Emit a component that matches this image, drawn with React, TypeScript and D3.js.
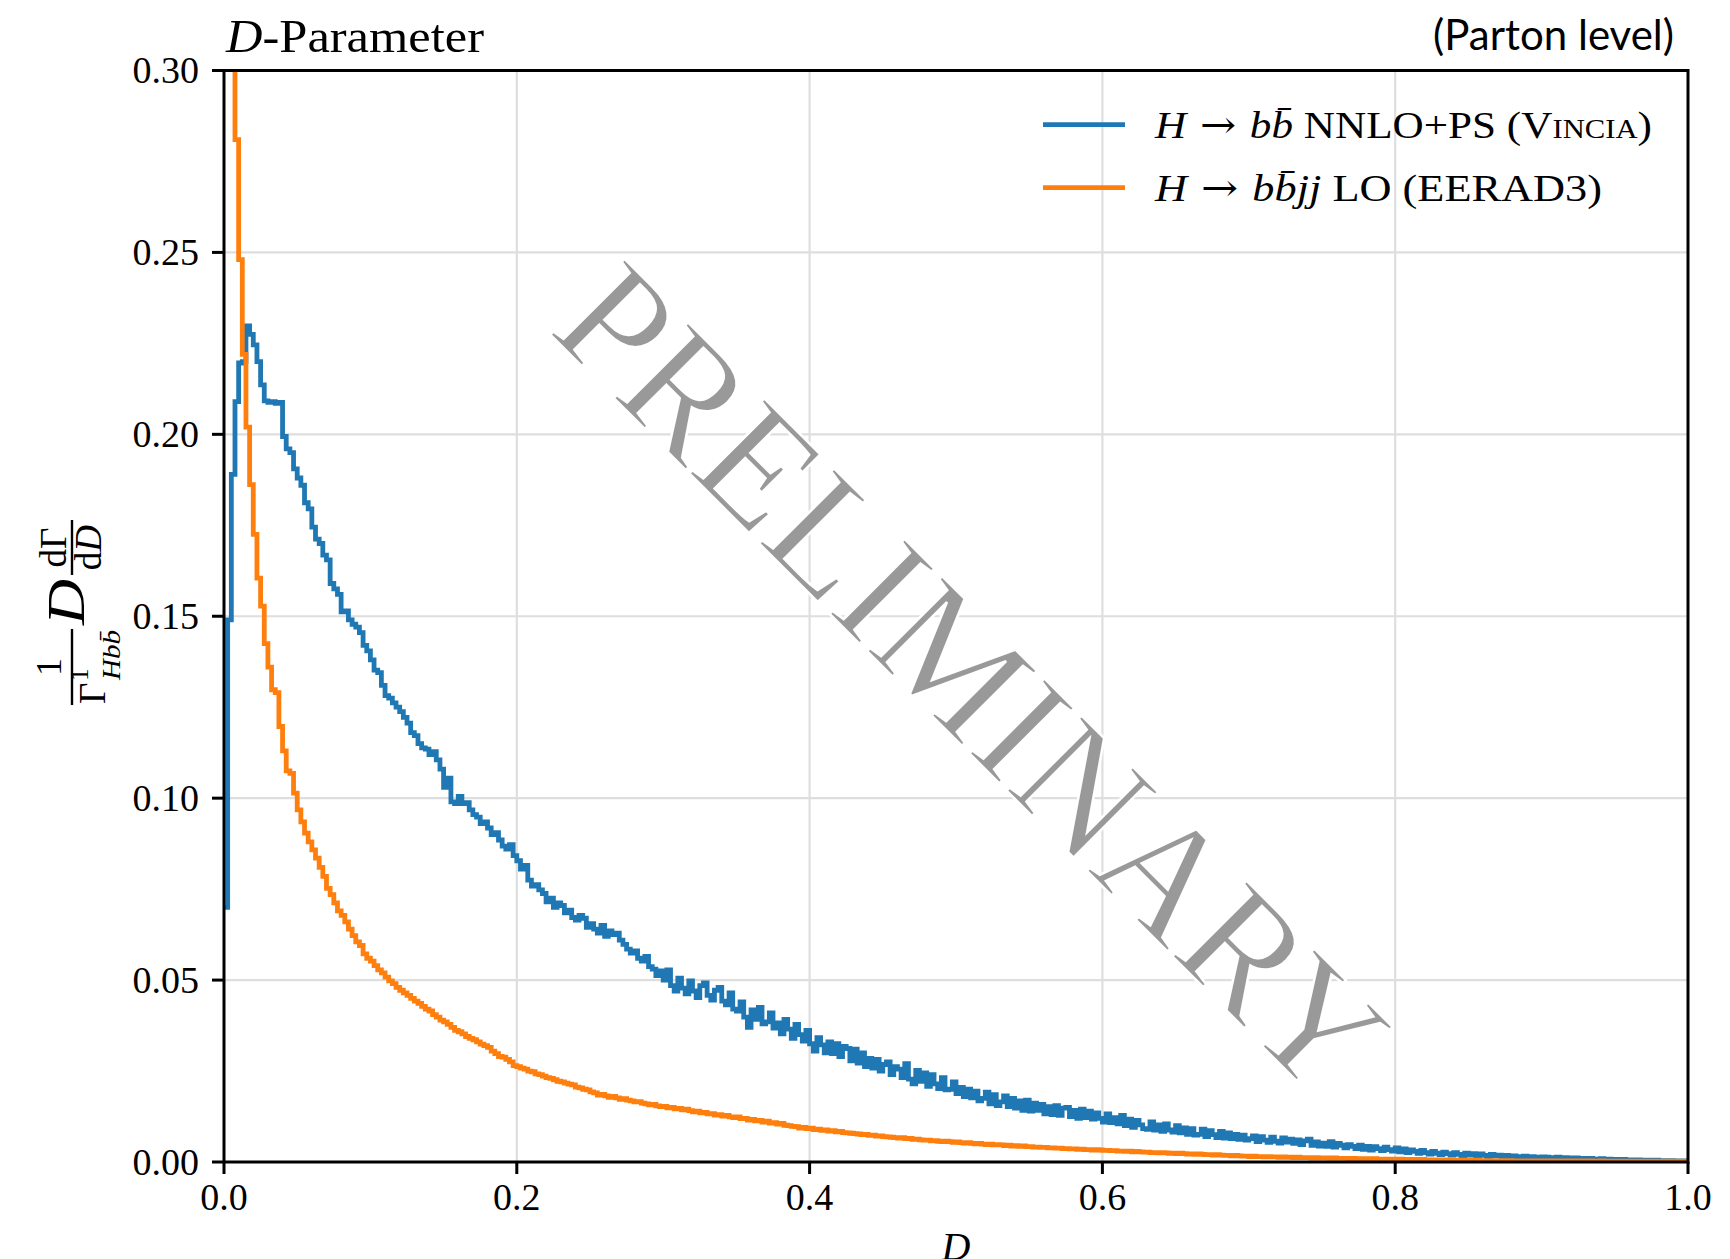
import React from 'react';
import * as d3 from 'd3';

const W = 1730;
const H = 1259;
const M = { left: 224, right: 1688, top: 70.5, bottom: 1162 };

const xTickValues = [0, 0.2, 0.4, 0.6, 0.8, 1.0];
const xTickLabels = ['0.0', '0.2', '0.4', '0.6', '0.8', '1.0'];
const yTickValues = [0, 0.05, 0.1, 0.15, 0.2, 0.25, 0.3];
const yTickLabels = ['0.00', '0.05', '0.10', '0.15', '0.20', '0.25', '0.30'];

const binWidth = 0.0025;
const valueUnit = 1e-4;

// H -> b bbar NNLO+PS (Vincia), per bin, in units of 1e-4
const vinciaNNLO = [
  700, 1490, 1890, 2090, 2196, 2200, 2298, 2275, 2246, 2200, 2136, 2092, 2088, 2090, 2085, 2088, 1994, 1960, 1950, 1905,
  1880, 1860, 1812, 1795, 1745, 1712, 1700, 1668, 1655, 1590, 1575, 1560, 1512, 1515, 1490, 1478, 1470, 1455, 1420, 1405,
  1380, 1352, 1345, 1310, 1282, 1275, 1262, 1250, 1238, 1222, 1206, 1180, 1172, 1150, 1138, 1135, 1120, 1128, 1105, 1080,
  1030, 1055, 990, 985, 1005, 985, 988, 968, 955, 948, 930, 935, 918, 900, 905, 885, 868, 860, 872, 842,
  828, 805, 815, 775, 758, 762, 748, 738, 715, 725, 700, 712, 705, 685, 692, 672, 665, 678, 670, 645,
  655, 640, 629, 650, 620, 635, 625, 629, 610, 598, 585, 574, 580, 560, 552, 565, 537, 530, 512, 525,
  500, 528, 485, 470, 505, 478, 462, 498, 470, 452, 485, 492, 458, 445, 472, 480, 442, 432, 465, 420,
  415, 440, 398, 370, 418, 392, 425, 380, 385, 410, 368, 382, 352, 392, 365, 340, 378, 350, 332, 362,
  325, 305, 342, 322, 300, 330, 298, 325, 290, 318, 312, 278, 310, 272, 300, 262, 285, 258, 282, 250,
  268, 275, 240, 262, 255, 232, 270, 228, 215, 252, 222, 245, 208, 240, 215, 202, 232, 198, 200, 220,
  188, 205, 180, 200, 176, 195, 168, 175, 192, 160, 185, 155, 165, 182, 152, 175, 148, 168, 142, 170,
  140, 162, 142, 158, 132, 152, 130, 155, 128, 148, 150, 125, 142, 120, 145, 122, 140, 118, 135, 120,
  110, 132, 108, 122, 105, 128, 100, 118, 95, 114, 102, 92, 90, 110, 88, 102, 84, 105, 88, 82,
  100, 80, 94, 76, 92, 74, 76, 90, 70, 86, 75, 67, 84, 66, 80, 64, 76, 62, 74, 60,
  64, 72, 56, 70, 60, 54, 68, 57, 52, 66, 55, 63, 51, 61, 48, 58, 63, 46, 55, 44,
  52, 43, 56, 41, 51, 46, 39, 48, 43, 37, 46, 35, 43, 33, 42, 37, 31, 41, 34, 30,
  39, 28, 36, 26, 33, 29, 24, 32, 26, 22, 29, 24, 20, 27, 23, 19, 26, 21, 17, 24,
  19, 23, 16, 22, 18, 15, 21, 17, 19, 14, 18, 13, 17, 15, 12, 16, 12, 15, 13, 11,
  14, 13, 11, 12, 13, 10, 12, 11, 10, 11, 9, 10, 9, 10, 8, 8, 9, 7, 8, 7,
  7, 6, 7, 6, 6, 5, 6, 5, 5, 5, 4, 5, 4, 4, 3, 4, 3, 3, 3, 3,
];

// H -> b bbar j j LO (EERAD3), per bin, in units of 1e-4
const eerad3LO = [
  9000, 5200, 3400, 2810, 2480, 2220, 2020, 1862, 1725, 1605, 1528, 1425, 1360, 1298, 1290, 1197, 1130, 1075, 1068, 1014,
  968, 935, 904, 880, 858, 835, 810, 785, 752, 735, 712, 690, 678, 660, 640, 622, 605, 595, 572, 560,
  552, 540, 528, 520, 508, 498, 490, 480, 472, 465, 458, 450, 442, 436, 428, 420, 415, 405, 398, 390,
  385, 378, 370, 362, 358, 352, 345, 340, 336, 330, 324, 320, 315, 305, 298, 290, 288, 282, 275, 265,
  262, 258, 255, 250, 248, 242, 240, 236, 232, 230, 226, 222, 220, 217, 214, 212, 206, 204, 200, 198,
  193, 190, 184, 186, 182, 178, 180, 176, 172, 174, 170, 168, 165, 166, 162, 160, 157, 158, 154, 152,
  153, 149, 150, 146, 147, 143, 145, 141, 138, 140, 135, 136, 132, 133, 129, 130, 126, 128, 124, 122,
  124, 119, 120, 115, 117, 113, 114, 110, 112, 107, 108, 104, 106, 101, 100, 98, 97, 93, 95, 92,
  93, 89, 90, 87, 88, 85, 86, 83, 84, 81, 80, 79, 78, 77, 75, 76, 73, 74, 71, 72,
  70, 69, 68, 67, 66, 67, 64, 65, 62, 63, 61, 60, 60, 58, 59, 57, 56, 57, 56, 54,
  55, 53, 52, 53, 51, 50, 51, 49, 48, 49, 47, 48, 47, 45, 46, 44, 45, 43, 44, 42,
  42, 41, 41, 40, 40, 39, 39, 38, 38, 37, 37, 36, 36, 35, 35, 34, 34, 33, 34, 33,
  32, 32, 31, 31, 30, 30, 29, 30, 28, 29, 28, 27, 27, 26, 26, 25, 26, 25, 24, 24,
  23, 24, 23, 22, 22, 21, 22, 21, 20, 20, 19, 20, 19, 18, 18, 17, 18, 17, 16, 16,
  15, 16, 15, 15, 14, 15, 14, 14, 13, 14, 13, 13, 12, 13, 12, 12, 12, 11, 12, 11,
  11, 11, 10, 11, 10, 10, 10, 9, 10, 9, 9, 9, 9, 8, 9, 8, 8, 8, 8, 8,
  7, 8, 7, 7, 7, 7, 6, 7, 6, 6, 6, 6, 6, 5, 6, 5, 5, 5, 5, 5,
  5, 4, 5, 4, 4, 4, 4, 4, 4, 4, 3, 4, 3, 3, 3, 3, 3, 3, 3, 3,
  3, 3, 3, 3, 3, 3, 3, 3, 3, 3, 2, 3, 2, 3, 2, 2, 3, 2, 2, 2,
  2, 2, 2, 2, 2, 2, 2, 2, 2, 2, 2, 2, 2, 2, 2, 2, 2, 2, 2, 2,
];

const seriesColors = ['#1f77b4', '#ff7f0e'];

const SERIF = '"Liberation Serif", "DejaVu Serif", serif';
const SANS = 'Lato, "Open Sans", sans-serif';
const ARROW_FONT = '"DejaVu Serif", "DejaVu Sans", serif';

export default function App() {
  const x = d3.scaleLinear().domain([0, 1]).range([M.left, M.right]);
  const y = d3.scaleLinear().domain([0, 0.3]).range([M.bottom, M.top]);

  const toPoints = (arr: number[]): [number, number][] => {
    const pts: [number, number][] = arr.map((v, i) => [i * binWidth, v * valueUnit]);
    pts.push([arr.length * binWidth, arr[arr.length - 1] * valueUnit]);
    return pts;
  };
  const line = d3
    .line<[number, number]>()
    .x((d) => x(d[0]))
    .y((d) => y(d[1]))
    .curve(d3.curveStepAfter);

  const bluePath = line(toPoints(vinciaNNLO)) || '';
  const orangePath = line(toPoints(eerad3LO)) || '';

  const gridColor = '#dedede';
  const cx = (M.left + M.right) / 2;
  const lw = 4.8;

  return (
    <svg
      width={W}
      height={H}
      viewBox={`0 0 ${W} ${H}`}
      style={{ position: 'absolute', left: 0, top: 0, background: '#fff' }}
      xmlns="http://www.w3.org/2000/svg"
    >
      <defs>
        <clipPath id="plotClip">
          <rect x={M.left} y={M.top} width={M.right - M.left} height={M.bottom - M.top} />
        </clipPath>
      </defs>
      <rect x={0} y={0} width={W} height={H} fill="#fff" />

      {/* grid */}
      <g>
        {xTickValues.map((t, i) => (
          <line key={'gx' + i} x1={x(t)} x2={x(t)} y1={M.top} y2={M.bottom} stroke={gridColor} strokeWidth={2.2} />
        ))}
        {yTickValues.map((t, i) => (
          <line key={'gy' + i} x1={M.left} x2={M.right} y1={y(t)} y2={y(t)} stroke={gridColor} strokeWidth={2.2} />
        ))}
      </g>

      {/* data */}
      <g clipPath="url(#plotClip)">
        <path d={bluePath} fill="none" stroke={seriesColors[0]} strokeWidth={lw} strokeLinejoin="miter" />
        <path d={orangePath} fill="none" stroke={seriesColors[1]} strokeWidth={lw} strokeLinejoin="miter" />
      </g>

      {/* watermark */}
      <text
        x={972}
        y={679}
        transform="rotate(45, 972, 679)"
        textAnchor="middle"
        dominantBaseline="central"
        fontFamily={SERIF}
        fontSize={162}
        fill="#999999"
        stroke="#ffffff"
        strokeWidth={2.5}
        textLength={1095}
        lengthAdjust="spacingAndGlyphs"
      >
        PRELIMINARY
      </text>

      {/* spines */}
      <rect x={M.left} y={M.top} width={M.right - M.left} height={M.bottom - M.top} fill="none" stroke="#000" strokeWidth={3} />

      {/* x ticks */}
      <g>
        {xTickValues.map((t, i) => (
          <g key={'xt' + i}>
            <line x1={x(t)} x2={x(t)} y1={M.bottom} y2={M.bottom + 12} stroke="#000" strokeWidth={3} />
            <text x={x(t)} y={1210} textAnchor="middle" fontFamily={SERIF} fontSize={38} fill="#000">
              {xTickLabels[i]}
            </text>
          </g>
        ))}
      </g>
      {/* y ticks */}
      <g>
        {yTickValues.map((t, i) => (
          <g key={'yt' + i}>
            <line x1={M.left - 12} x2={M.left} y1={y(t)} y2={y(t)} stroke="#000" strokeWidth={3} />
            <text x={199} y={y(t) + 12.5} textAnchor="end" fontFamily={SERIF} fontSize={38} fill="#000">
              {yTickLabels[i]}
            </text>
          </g>
        ))}
      </g>

      {/* x label */}
      <text x={cx} y={1260} textAnchor="middle" fontFamily={SERIF} fontSize={40} fontStyle="italic" fill="#000">
        D
      </text>

      {/* y label */}
      <g transform="translate(72, 612) rotate(-90)" fontFamily={SERIF} fill="#000">
        <line x1={-93} x2={-17} y1={0} y2={0} stroke="#000" strokeWidth={2.4} />
        <text x={-55} y={-11} textAnchor="middle" fontSize={36}>1</text>
        <text x={-92} y={33} fontSize={37}>Γ</text>
        <text x={-69} y={16} fontSize={25}>1</text>
        <text x={-68} y={48} fontSize={26} fontStyle="italic" textLength={50} lengthAdjust="spacingAndGlyphs">Hbb̄</text>
        <text x={-13} y={12} fontSize={52} fontStyle="italic" textLength={46} lengthAdjust="spacingAndGlyphs">D</text>
        <line x1={37} x2={92} y1={0} y2={0} stroke="#000" strokeWidth={2.4} />
        <text x={64.5} y={-6} textAnchor="middle" fontSize={37}>
          dΓ
        </text>
        <text x={64.5} y={29} textAnchor="middle" fontSize={37}>
          d<tspan fontStyle="italic">D</tspan>
        </text>
      </g>

      {/* title */}
      <text x={226} y={52} fontFamily={SERIF} fontSize={46} fill="#000" textLength={258} lengthAdjust="spacingAndGlyphs">
        <tspan fontStyle="italic">D</tspan>-Parameter
      </text>
      <text x={1674} y={50} textAnchor="end" fontFamily={SANS} fontSize={42} fill="#000">
        (Parton level)
      </text>

      {/* legend */}
      <g fontFamily={SERIF} fontSize={38} fill="#000">
        <line x1={1043} x2={1125} y1={124.7} y2={124.7} stroke={seriesColors[0]} strokeWidth={lw} />
        <text x={1155} y={138} textLength={497} lengthAdjust="spacingAndGlyphs">
          <tspan fontStyle="italic">H</tspan>
          <tspan fontFamily={ARROW_FONT}> → </tspan>
          <tspan fontStyle="italic">bb̄</tspan>
          <tspan> NNLO+PS (</tspan>
          <tspan style={{ fontVariant: 'small-caps' }}>Vincia</tspan>
          <tspan>)</tspan>
        </text>
        <line x1={1043} x2={1125} y1={187.6} y2={187.6} stroke={seriesColors[1]} strokeWidth={lw} />
        <text x={1155} y={201} textLength={447} lengthAdjust="spacingAndGlyphs">
          <tspan fontStyle="italic">H</tspan>
          <tspan fontFamily={ARROW_FONT}> → </tspan>
          <tspan fontStyle="italic">bb̄jj</tspan>
          <tspan> LO (EERAD3)</tspan>
        </text>
      </g>
    </svg>
  );
}
